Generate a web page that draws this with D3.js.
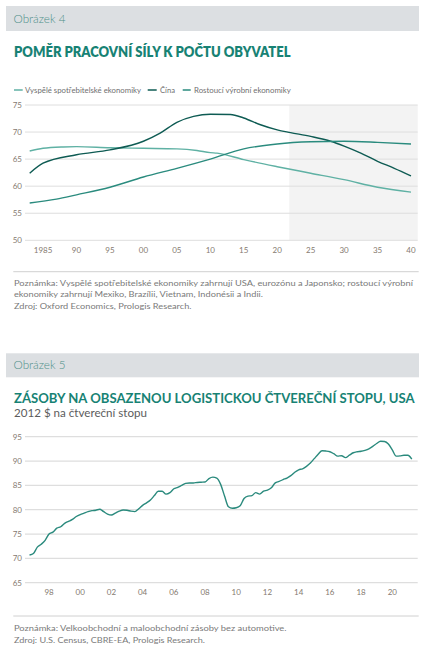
<!DOCTYPE html>
<html><head><meta charset="utf-8">
<script src="https://cdn.jsdelivr.net/npm/d3@7"></script>
<style>
html,body{margin:0;padding:0;background:#fff;}
svg{display:block;font-family:Lato,"Noto Sans",sans-serif;}
</style></head>
<body>
<svg id="c" width="430" height="657"></svg>
<script>
// ---------- Chart 1 data ----------
const c1Series = ["Vyspělé spotřebitelské ekonomiky", "Čína", "Rostoucí výrobní ekonomiky"];
const c1Colors = ["#5fb1a4", "#0e5b53", "#2a8b7e"];
const c1AdvYears = [1983,1985,1988,1990,1995,2000,2005,2008,2010,2011,2015,2020,2025,2030,2035,2040];
const c1AdvVals  = [66.5,67.0,67.25,67.3,67.1,67.0,66.9,66.6,66.2,66.1,64.9,63.6,62.4,61.2,59.8,58.9];
const c1ChinaYears = [1983,1985,1990,1995,2000,2002.5,2005,2007.5,2010,2013,2015,2017.5,2020,2022,2025,2028,2030,2032.5,2035,2037.5,2040];
const c1ChinaVals  = [62.4,64.25,65.8,66.7,68.3,69.8,71.8,72.9,73.3,73.25,72.6,71.35,70.4,69.9,69.2,68.3,67.4,66.1,64.6,63.3,61.9];
const c1EmYears = [1983,1987,1990,1995,2000,2005,2010,2015,2020,2025,2030,2035,2040];
const c1EmVals  = [56.9,57.6,58.4,59.8,61.7,63.3,65.0,66.9,67.8,68.2,68.3,68.1,67.8];
const c1YTicks = [50,55,60,65,70,75];
const c1XTicks = [1985,1990,1995,2000,2005,2010,2015,2020,2025,2030,2035,2040];
const c1XLabels = ["1985","90","95","00","05","10","15","20","25","30","35","40"];
const c1ForecastStart = 2021.8;

// ---------- Chart 2 data (quarterly, from Q4 1996) ----------
const c2Start = 1996.75;
const c2Vals = [70.7,71.0,72.3,72.9,73.7,75.0,75.4,76.2,76.5,77.2,77.6,78.0,78.6,79.0,79.3,79.6,79.8,79.9,80.1,79.6,
79.1,78.9,79.3,79.7,79.95,79.9,79.7,79.6,80.2,80.9,81.4,82.0,82.9,83.8,83.8,83.2,83.5,84.3,84.6,85.0,
85.4,85.5,85.5,85.6,85.65,85.7,86.4,86.7,86.5,85.2,82.8,80.6,80.3,80.4,80.8,82.3,82.8,82.9,83.5,83.2,
83.8,84.0,84.5,85.5,85.8,86.2,86.5,87.0,87.7,88.2,88.4,88.9,89.6,90.5,91.4,92.1,92.05,91.9,91.5,91.0,
91.1,90.7,91.2,91.7,91.9,92.0,92.2,92.5,93.0,93.6,94.05,94.0,93.5,92.3,91.0,91.05,91.2,91.2,90.4];
const c2YTicks = [65,70,75,80,85,90,95];
const c2XTicks = [1998,2000,2002,2004,2006,2008,2010,2012,2014,2016,2018,2020];
const c2XLabels = ["98","00","02","04","06","08","10","12","14","16","18","20"];

const svg = d3.select("#c");
const tickColor = "#857a70";
const noteColor = "#7a7a7a";
const gridColor = "#dedede";
const titleColor = "#178274";

function header(y0, y1, label){
  svg.append("rect").attr("x",6).attr("y",y0).attr("width",413).attr("height",y1-y0).attr("fill","#dcdfe2");
  svg.append("text").attr("x",13.5).attr("y",(y0+y1)/2+4).attr("font-size",12).attr("font-weight",300)
    .attr("fill","#4e8f89").attr("textLength",52).attr("lengthAdjust","spacingAndGlyphs").text(label);
}
function textFit(x,y,size,weight,color,len,str){
  const t = svg.append("text").attr("x",x).attr("y",y).attr("font-size",size).attr("font-weight",weight).attr("fill",color).text(str);
  if(len) t.attr("textLength",len).attr("lengthAdjust","spacingAndGlyphs");
  return t;
}

// ===== Chart 1 =====
header(6,31,"Obrázek 4");
textFit(14,57,15.5,800,titleColor,276.5,"POMĚR PRACOVNÍ SÍLY K POČTU OBYVATEL");

const x1 = d3.scaleLinear().domain([1982.3,2041]).range([25,417.7]);
const y1 = d3.scaleLinear().domain([50,75]).range([240.3,105]);

// legend
const legItems = [
  {sx:14, sw:8.7, tx:25, tl:116},
  {sx:147.7, sw:9, tx:160, tl:15},
  {sx:182.7, sw:8, tx:194, tl:96.7}
];
legItems.forEach((d,i)=>{
  svg.append("line").attr("x1",d.sx).attr("x2",d.sx+d.sw).attr("y1",90).attr("y2",90)
    .attr("stroke",c1Colors[i]).attr("stroke-width",1.5);
  textFit(d.tx,92.8,8,400,"#6f6f6f",d.tl,c1Series[i]);
});

// forecast shading
svg.append("rect").attr("x",x1(c1ForecastStart)).attr("y",y1(75))
  .attr("width",x1.range()[1]-x1(c1ForecastStart)).attr("height",y1(50)-y1(75)).attr("fill","#f3f3f3");

// grid
svg.append("g").selectAll("line").data(c1YTicks).join("line")
  .attr("x1",x1.range()[0]).attr("x2",x1.range()[1]).attr("y1",d=>y1(d)).attr("y2",d=>y1(d))
  .attr("stroke",gridColor).attr("stroke-width",1);
svg.append("g").selectAll("text").data(c1YTicks).join("text")
  .attr("x",22).attr("y",d=>y1(d)+2.8).attr("text-anchor","end").attr("font-size",8).attr("fill",tickColor).text(d=>d);
svg.append("g").selectAll("text").data(c1XTicks).join("text")
  .attr("x",d=>x1(d)).attr("y",252.5).attr("text-anchor","middle").attr("font-size",8).attr("fill",tickColor)
  .text((d,i)=>c1XLabels[i]);

const line1 = d3.line().x(d=>x1(d[0])).y(d=>y1(d[1])).curve(d3.curveMonotoneX);
const c1Data = [
  d3.zip(c1AdvYears,c1AdvVals),
  d3.zip(c1ChinaYears,c1ChinaVals),
  d3.zip(c1EmYears,c1EmVals)
];
c1Data.forEach((d,i)=>{
  svg.append("path").datum(d).attr("d",line1).attr("fill","none")
    .attr("stroke",c1Colors[i]).attr("stroke-width",1.4);
});

// separator + notes
svg.append("line").attr("x1",13.3).attr("x2",418.7).attr("y1",271.7).attr("y2",271.7).attr("stroke","#c4c4c4").attr("stroke-width",0.8);
textFit(14,286,8.4,400,noteColor,399,"Poznámka: Vyspělé spotřebitelské ekonomiky zahrnují USA, eurozónu a Japonsko; rostoucí výrobní");
textFit(14,297.3,8.4,400,noteColor,249,"ekonomiky zahrnují Mexiko, Brazílii, Vietnam, Indonésii a Indii.");
textFit(14,308.6,8.4,400,noteColor,177.5,"Zdroj: Oxford Economics, Prologis Research.");

// ===== Chart 2 =====
header(353.3,377.3,"Obrázek 5");
textFit(14,402.7,12.8,700,titleColor,400.5,"ZÁSOBY NA OBSAZENOU LOGISTICKOU ČTVEREČNÍ STOPU, USA");
textFit(14,417,10.5,400,"#5c5c5c",133,"2012 $ na čtvereční stopu");

const x2 = d3.scaleLinear().domain([1996.46,2021.63]).range([25,417.7]);
const y2 = d3.scaleLinear().domain([65,95]).range([582.7,436.7]);

svg.append("g").selectAll("line").data(c2YTicks).join("line")
  .attr("x1",x2.range()[0]).attr("x2",x2.range()[1]).attr("y1",d=>y2(d)).attr("y2",d=>y2(d))
  .attr("stroke",gridColor).attr("stroke-width",1.2);
svg.append("g").selectAll("text").data(c2YTicks).join("text")
  .attr("x",22).attr("y",d=>y2(d)+2.8).attr("text-anchor","end").attr("font-size",8).attr("fill",tickColor).text(d=>d);
svg.append("g").selectAll("text").data(c2XTicks).join("text")
  .attr("x",d=>x2(d)).attr("y",594.5).attr("text-anchor","middle").attr("font-size",8).attr("fill",tickColor)
  .text((d,i)=>c2XLabels[i]);

const c2Data = c2Vals.map((v,i)=>[c2Start+i*0.25, v]);
const line2 = d3.line().x(d=>x2(d[0])).y(d=>y2(d[1])).curve(d3.curveMonotoneX);
svg.append("path").datum(c2Data).attr("d",line2).attr("fill","none")
  .attr("stroke","#2a8a7d").attr("stroke-width",1.4);

svg.append("line").attr("x1",13.3).attr("x2",418.7).attr("y1",616).attr("y2",616).attr("stroke","#c4c4c4").attr("stroke-width",0.8);
textFit(14,631,8.4,400,noteColor,272.5,"Poznámka: Velkoobchodní a maloobchodní zásoby bez automotive.");
textFit(14,642.6,8.4,400,noteColor,191,"Zdroj: U.S. Census, CBRE-EA, Prologis Research.");
</script>
</body></html>
